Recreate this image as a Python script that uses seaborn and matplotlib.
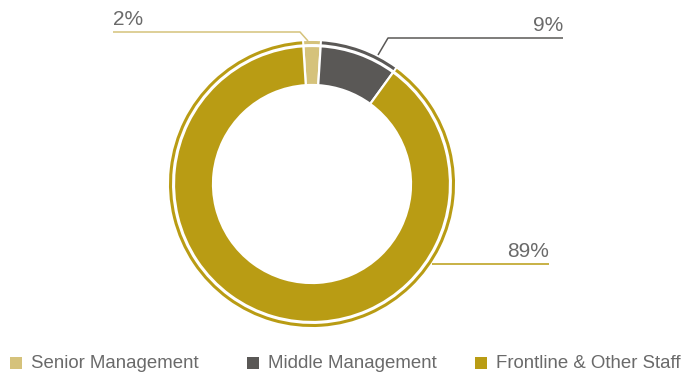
import matplotlib
matplotlib.use("Agg")
import matplotlib.pyplot as plt
from matplotlib.patches import Rectangle
import seaborn as sns

# Workforce composition by level
categories = ["Senior Management", "Middle Management", "Frontline & Other Staff"]
shares = [2, 9, 89]
share_labels = ["2%", "9%", "89%"]
colors = ["#d5c27b", "#5a5856", "#b99c14"]

sns.set_theme(style="white")
plt.rcParams["font.family"] = ["Liberation Sans", "DejaVu Sans"]

W, H = 683, 374
fig = plt.figure(figsize=(W / 100, H / 100), dpi=100)
ax = fig.add_axes([0, 0, 1, 1])

def Y(y):
    # pixel row (top-down) to axis coordinate (bottom-up)
    return H - y

cx, cy = 312, Y(184)
start = 90 + shares[0] / 100 * 360 / 2

# main ring
ax.pie(shares, colors=colors, startangle=start, counterclock=False,
       radius=138, center=(cx, cy),
       wedgeprops=dict(width=39, edgecolor="white", linewidth=1.6))
# thin outer ring
ax.pie(shares, colors=colors, startangle=start, counterclock=False,
       radius=144, center=(cx, cy),
       wedgeprops=dict(width=5, edgecolor="white", linewidth=1.4))

ax.set_xlim(0, W)
ax.set_ylim(0, H)
ax.set_aspect("auto")
ax.axis("off")

text_color = "#6a6a6a"

# leader lines with value labels
leaders = [
    # (points, text x, text y, ha)
    ([(308, 41), (300, 32), (113, 32)], 113, 29, "left"),
    ([(378, 55), (388, 38), (563, 38)], 563, 35, "right"),
    ([(432, 264), (549, 264)], 549, 261, "right"),
]
for (pts, tx, ty, ha), lab, col in zip(leaders, share_labels, colors):
    xs = [p[0] for p in pts]
    ys = [Y(p[1]) for p in pts]
    ax.plot(xs, ys, color=col, lw=1.1, solid_capstyle="butt")
    ax.text(tx, Y(ty), lab, ha=ha, va="bottom", fontsize=15,
            color=text_color)

# legend row
legend_x = [10, 247, 475]
for x0, cat, col in zip(legend_x, categories, colors):
    ax.add_patch(Rectangle((x0, Y(369)), 12, 12, color=col, lw=0))
    ax.text(x0 + 21, Y(363), cat, ha="left", va="center", fontsize=13.4,
            color=text_color)

fig.savefig("out.png", dpi=100)
